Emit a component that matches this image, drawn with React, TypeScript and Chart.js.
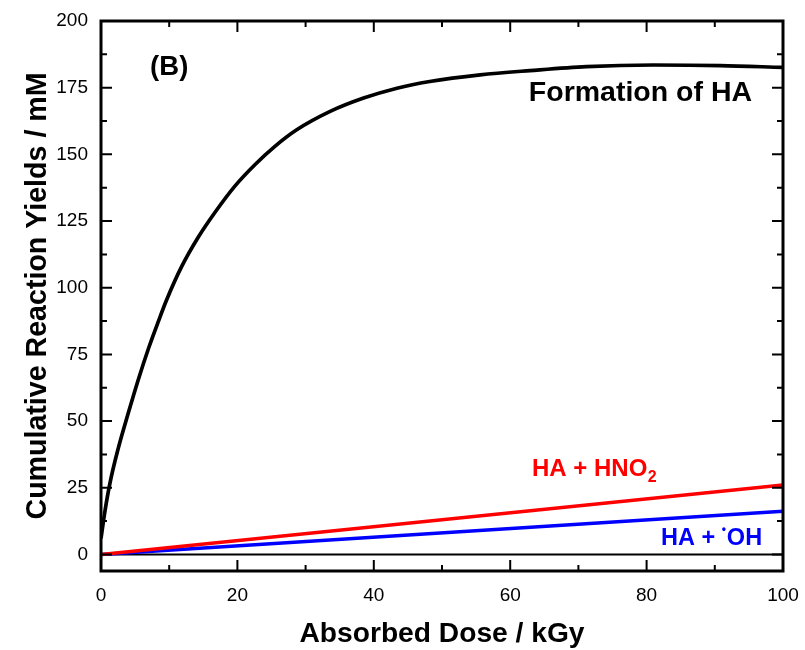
import React, { useEffect, useRef } from "react";
import { Chart, registerables } from "chart.js";

Chart.register(...registerables);

// ---- data ----
const haDose = [0, 0.6, 1.3, 2.5, 4, 5.5, 7, 8.4, 9.6, 11.8, 14.3, 16.7, 19.6, 22.6, 25.5, 28.7, 33.6, 38.5, 43.4, 48.2, 55.6, 62.9, 71.2, 81, 90.8, 100];
const haYield = [6, 16.6, 26.6, 39.5, 53, 65.8, 77.5, 87.3, 95.3, 107.8, 119.1, 128.2, 138, 146.2, 153, 159.2, 166.1, 171.1, 174.8, 177.3, 179.8, 181.4, 182.9, 183.5, 183.3, 182.6];
const hno2Dose = [0, 100];
const hno2Yield = [0, 26];
const ohDose = [0, 100];
const ohYield = [0, 16.2];
const zeroDose = [0, 100];
const zeroYield = [0, 0];

const xTickValues = [0, 20, 40, 60, 80, 100];
const yTickValues = [0, 25, 50, 75, 100, 125, 150, 175, 200];

const X_MIN = 0;
const X_MAX = 100;
const Y_MIN = -6.2;
const Y_MAX = 200;

const FONT = "'Liberation Sans', Arial, Helvetica, sans-serif";

const toPts = (xs: number[], ys: number[]) => xs.map((x, i) => ({ x, y: ys[i] }));

// label anchors in data coordinates
const labelB = { x: 10, y: 182.7 };
const labelFormation = { x: 79.1, y: 172.8 };
const labelHNO2 = { x: 63.2, y: 29.4 };
const labelOH = { x: 82.1, y: 3.5 };

const framePlugin = {
  id: "frameTicks",
  afterDatasetsDraw(chart: any) {
    const { ctx, chartArea: a, scales } = chart;
    const xs = scales.x;
    const ys = scales.y;
    ctx.save();
    ctx.strokeStyle = "#000";
    ctx.lineWidth = 2;
    ctx.lineCap = "butt";
    const major = 11;
    const minor = 6;
    const xt = xs.ticks.map((t: any) => t.value);
    const xvals: { v: number; len: number }[] = [];
    xt.forEach((v: number, i: number) => {
      xvals.push({ v, len: major });
      if (i < xt.length - 1) xvals.push({ v: (v + xt[i + 1]) / 2, len: minor });
    });
    xvals.forEach(({ v, len }) => {
      const px = xs.getPixelForValue(v);
      ctx.beginPath();
      ctx.moveTo(px, a.bottom);
      ctx.lineTo(px, a.bottom - len);
      ctx.moveTo(px, a.top);
      ctx.lineTo(px, a.top + len);
      ctx.stroke();
    });
    const yt = ys.ticks.map((t: any) => t.value);
    const yvals: { v: number; len: number }[] = [];
    yt.forEach((v: number, i: number) => {
      yvals.push({ v, len: major });
      if (i < yt.length - 1) yvals.push({ v: (v + yt[i + 1]) / 2, len: minor });
    });
    yvals.forEach(({ v, len }) => {
      const py = ys.getPixelForValue(v);
      ctx.beginPath();
      ctx.moveTo(a.left, py);
      ctx.lineTo(a.left + len, py);
      ctx.moveTo(a.right, py);
      ctx.lineTo(a.right - len, py);
      ctx.stroke();
    });
    ctx.lineWidth = 3;
    ctx.strokeRect(a.left, a.top, a.right - a.left, a.bottom - a.top);

    // annotations
    const px = (p: { x: number; y: number }) => [xs.getPixelForValue(p.x), ys.getPixelForValue(p.y)];
    ctx.fillStyle = "#000";
    ctx.textAlign = "center";
    ctx.textBaseline = "middle";
    ctx.font = `bold 27.5px ${FONT}`;
    let [bx, by] = px(labelB);
    ctx.fillText("(B)", bx, by);
    ctx.font = `bold 28.5px ${FONT}`;
    [bx, by] = px(labelFormation);
    ctx.fillText("Formation of HA", bx, by);

    // red label with subscript
    ctx.textAlign = "left";
    ctx.textBaseline = "alphabetic";
    ctx.fillStyle = "#ff0000";
    ctx.font = `bold 24px ${FONT}`;
    [bx, by] = px(labelHNO2);
    const main1 = "HA + HNO";
    ctx.fillText(main1, bx, by);
    const w1 = ctx.measureText(main1).width;
    ctx.font = `bold 16px ${FONT}`;
    ctx.fillText("2", bx + w1 + 0.5, by + 6);

    // blue label with radical dot
    ctx.fillStyle = "#0000ff";
    ctx.font = `bold 23.5px ${FONT}`;
    [bx, by] = px(labelOH);
    const pre = "HA + ";
    ctx.fillText(pre, bx, by);
    let cx = bx + ctx.measureText(pre).width;
    ctx.font = `bold 12px ${FONT}`;
    ctx.fillText("•", cx, by - 12);
    cx += ctx.measureText("•").width + 1;
    ctx.font = `bold 23.5px ${FONT}`;
    ctx.fillText("OH", cx, by);
    ctx.restore();
  },
};

export default function App() {
  const ref = useRef<HTMLCanvasElement | null>(null);
  useEffect(() => {
    if (!ref.current) return;
    const zeroPad = (s: any) => {
      s.paddingTop = 0;
      s.paddingBottom = 0;
      s.paddingLeft = 0;
      s.paddingRight = 0;
    };
    const chart = new Chart(ref.current, {
      type: "line",
      data: {
        datasets: [
          {
            label: "Formation of HA",
            data: toPts(haDose, haYield),
            borderColor: "#000000",
            borderWidth: 3.7,
            pointRadius: 0,
            cubicInterpolationMode: "monotone",
            fill: false,
            order: 1,
          },
          {
            label: "HA + HNO2",
            data: toPts(hno2Dose, hno2Yield),
            borderColor: "#ff0000",
            borderWidth: 3.5,
            pointRadius: 0,
            fill: false,
            order: 2,
          },
          {
            label: "HA + OH",
            data: toPts(ohDose, ohYield),
            borderColor: "#0000ff",
            borderWidth: 3.5,
            pointRadius: 0,
            fill: false,
            order: 3,
          },
          {
            label: "zero",
            data: toPts(zeroDose, zeroYield),
            borderColor: "#000000",
            borderWidth: 2,
            pointRadius: 0,
            fill: false,
            order: 4,
          },
        ],
      },
      options: {
        animation: false,
        responsive: false,
        devicePixelRatio: 1,
        layout: { padding: { top: 21, right: 22, left: 0, bottom: 0 } },
        plugins: { legend: { display: false }, tooltip: { enabled: false } },
        scales: {
          x: {
            type: "linear",
            min: X_MIN,
            max: X_MAX,
            grid: { display: false, drawTicks: false },
            border: { display: false },
            afterBuildTicks: (s: any) => {
              s.ticks = xTickValues.map((v) => ({ value: v }));
            },
            afterFit: (s: any) => {
              s.height = 79;
              zeroPad(s);
            },
            ticks: {
              color: "#000",
              font: { family: FONT, size: 19 },
              padding: 13,
              maxRotation: 0,
              autoSkip: false,
            },
            title: {
              display: true,
              text: "Absorbed Dose / kGy",
              color: "#000",
              font: { family: FONT, size: 28.2, weight: "bold", lineHeight: 1.1 },
              padding: { top: 0, bottom: 0 },
            },
          },
          y: {
            type: "linear",
            min: Y_MIN,
            max: Y_MAX,
            grid: { display: false, drawTicks: false },
            border: { display: false },
            afterBuildTicks: (s: any) => {
              s.ticks = yTickValues.map((v) => ({ value: v }));
            },
            afterFit: (s: any) => {
              s.width = 101;
              zeroPad(s);
            },
            ticks: {
              color: "#000",
              font: { family: FONT, size: 19 },
              padding: 13,
              autoSkip: false,
            },
            title: {
              display: true,
              text: "Cumulative Reaction Yields / mM",
              color: "#000",
              font: { family: FONT, size: 28.6, weight: "bold", lineHeight: 1.2 },
              padding: { top: 21, bottom: 0 },
            },
          },
        },
      },
      plugins: [framePlugin],
    } as any);
    return () => chart.destroy();
  }, []);
  return (
    <div style={{ position: "fixed", left: 0, top: 0, width: 805, height: 650, background: "#fff" }}>
      <canvas ref={ref} width={805} height={650} style={{ display: "block", width: 805, height: 650 }} />
    </div>
  );
}
